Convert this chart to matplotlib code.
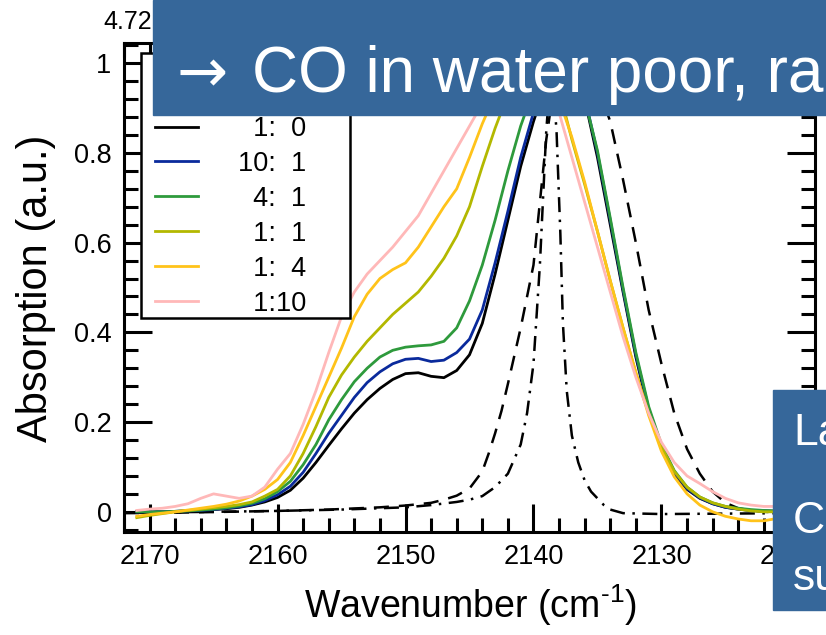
import matplotlib
matplotlib.use("Agg")
import matplotlib.pyplot as plt
from matplotlib.patches import Rectangle
from matplotlib.ticker import MultipleLocator

plt.rcParams['font.family'] = ['Liberation Sans', 'DejaVu Sans']
plt.rcParams['mathtext.fontset'] = 'custom'
plt.rcParams['mathtext.rm'] = 'Liberation Sans'
plt.rcParams['mathtext.default'] = 'regular'

# wavenumber grid of the mixture spectra, 2171 ... 2119 cm-1
wn = [2171, 2170, 2169, 2168, 2167, 2166, 2165, 2164, 2163, 2162,
      2161, 2160, 2159, 2158, 2157, 2156, 2155, 2154, 2153, 2152,
      2151, 2150, 2149, 2148, 2147, 2146, 2145, 2144, 2143, 2142,
      2141, 2140, 2139, 2138, 2137, 2136, 2135, 2134, 2133, 2132,
      2131, 2130, 2129, 2128, 2127, 2126, 2125, 2124, 2123, 2122,
      2121, 2120, 2119]

# H2O:CO ratios
ratios = ["\u20071:\u20070", "10:\u20071", "\u20074:\u20071",
          "\u20071:\u20071", "\u20071:\u20074", "\u20071:10"]
colors = ["black", "#0a2a9c", "#2e9a3c", "#b3b800", "#ffc31a", "#ffb8b8"]

abs_1_0 = [0.0, 0.0, 0.0, 0.001, 0.002, 0.003, 0.005, 0.007, 0.010, 0.015,
           0.022, 0.032, 0.048, 0.075, 0.110, 0.148, 0.185, 0.220, 0.250, 0.275,
           0.295, 0.308, 0.310, 0.302, 0.299, 0.315, 0.350, 0.420, 0.530, 0.650,
           0.770, 0.870, 0.955, 1.000, 0.985, 0.920, 0.790, 0.640, 0.490, 0.345,
           0.225, 0.140, 0.085, 0.050, 0.030, 0.018, 0.010, 0.006, 0.003, 0.002,
           0.001, 0.0, 0.0]
abs_10_1 = [0.0, 0.0, 0.0, 0.001, 0.002, 0.003, 0.005, 0.008, 0.011, 0.016,
            0.025, 0.038, 0.057, 0.088, 0.130, 0.175, 0.215, 0.255, 0.288, 0.312,
            0.330, 0.340, 0.342, 0.335, 0.338, 0.355, 0.385, 0.450, 0.555, 0.670,
            0.790, 0.890, 0.965, 1.000, 0.985, 0.925, 0.800, 0.650, 0.495, 0.350,
            0.230, 0.145, 0.088, 0.052, 0.031, 0.018, 0.010, 0.006, 0.003, 0.002,
            0.001, 0.0, 0.0]
abs_4_1 = [0.0, 0.0, 0.0, 0.001, 0.002, 0.004, 0.006, 0.009, 0.013, 0.019,
           0.029, 0.045, 0.068, 0.105, 0.150, 0.205, 0.250, 0.290, 0.320, 0.345,
           0.360, 0.367, 0.370, 0.372, 0.380, 0.410, 0.470, 0.550, 0.650, 0.760,
           0.860, 0.940, 0.990, 1.000, 0.980, 0.920, 0.805, 0.655, 0.500, 0.355,
           0.235, 0.150, 0.092, 0.055, 0.033, 0.020, 0.012, 0.008, 0.005, 0.003,
           0.002, 0.001, 0.001]
abs_1_1 = [-0.013, -0.008, -0.004, 0.0, 0.003, 0.006, 0.009, 0.012, 0.016, 0.022,
           0.035, 0.050, 0.080, 0.130, 0.190, 0.255, 0.305, 0.345, 0.380, 0.410,
           0.440, 0.465, 0.490, 0.525, 0.565, 0.615, 0.680, 0.770, 0.855, 0.930,
           0.980, 1.000, 0.990, 0.940, 0.830, 0.730, 0.625, 0.515, 0.410, 0.310,
           0.220, 0.145, 0.090, 0.055, 0.033, 0.020, 0.012, 0.006, 0.002, 0.0,
           0.0, 0.0, 0.0]
abs_1_4 = [-0.010, -0.006, -0.003, 0.0, 0.004, 0.008, 0.012, 0.017, 0.024, 0.035,
           0.050, 0.072, 0.110, 0.170, 0.235, 0.300, 0.365, 0.435, 0.485, 0.520,
           0.540, 0.555, 0.590, 0.635, 0.680, 0.720, 0.790, 0.865, 0.930, 0.975,
           1.000, 0.995, 0.970, 0.920, 0.835, 0.735, 0.625, 0.515, 0.410, 0.310,
           0.215, 0.135, 0.078, 0.040, 0.015, 0.0, -0.010, -0.016, -0.020, -0.020,
           -0.015, -0.010, -0.008]
abs_1_10 = [0.003, 0.006, 0.008, 0.012, 0.018, 0.030, 0.040, 0.035, 0.030, 0.035,
            0.055, 0.095, 0.130, 0.195, 0.270, 0.355, 0.435, 0.490, 0.530, 0.560,
            0.590, 0.625, 0.660, 0.710, 0.760, 0.810, 0.860, 0.910, 0.950, 0.980,
            1.000, 0.995, 0.960, 0.890, 0.790, 0.690, 0.590, 0.490, 0.390, 0.300,
            0.220, 0.155, 0.110, 0.080, 0.063, 0.045, 0.030, 0.020, 0.015, 0.012,
            0.012, 0.013, 0.013]
spectra = [abs_1_0, abs_10_1, abs_4_1, abs_1_1, abs_1_4, abs_1_10]

# black reference profiles
dash_wn = [2172, 2168, 2164, 2160, 2156, 2152, 2150, 2148, 2147, 2146,
           2145, 2144, 2143.5, 2143, 2142.5, 2142, 2141, 2140, 2139.5, 2139,
           2138.5, 2138, 2137, 2136, 2135, 2134, 2133, 2132, 2131, 2130,
           2129, 2128, 2127, 2126, 2125, 2124, 2123, 2122, 2120, 2118]
dash_abs = [-0.003, -0.002, 0.0, 0.002, 0.005, 0.01, 0.014, 0.02, 0.027, 0.036,
            0.052, 0.09, 0.13, 0.175, 0.225, 0.285, 0.41, 0.55, 0.69, 0.83,
            0.93, 0.98, 1.0, 0.99, 0.95, 0.87, 0.74, 0.6, 0.45, 0.33,
            0.22, 0.14, 0.085, 0.045, 0.02, 0.008, 0.003, 0.0, -0.002, -0.002]
dashdot_wn = [2172, 2165, 2160, 2155, 2150, 2148, 2146, 2145, 2144, 2143,
              2142, 2141, 2140.5, 2140, 2139.5, 2139, 2138.6, 2138.2, 2137.9, 2137.7,
              2137.4, 2137, 2136.5, 2136, 2135.5, 2135, 2134.5, 2134, 2133, 2130,
              2125, 2120, 2118]
dashdot_abs = [-0.002, 0.0, 0.002, 0.005, 0.01, 0.015, 0.022, 0.027, 0.035, 0.055,
               0.085, 0.15, 0.22, 0.33, 0.55, 0.85, 1.0, 0.85, 0.62, 0.42,
               0.27, 0.17, 0.11, 0.07, 0.045, 0.03, 0.015, 0.005, -0.003, -0.005,
               -0.004, -0.003, -0.003]

xticks = [2170, 2160, 2150, 2140, 2130, 2120]
xticklabels = ["2170", "2160", "2150", "2140", "2130", "2120"]
yticks = [0, 0.2, 0.4, 0.6, 0.8, 1.0]
yticklabels = ["0", "0.2", "0.4", "0.6", "0.8", "1"]

W, H = 826, 635
fig = plt.figure(figsize=(W / 100, H / 100), dpi=100)
ax = fig.add_axes([124 / W, 1 - 532 / H, (815 - 124) / W, (532 - 43) / H])

ax.plot(dash_wn, dash_abs, color="black", lw=1.8, dashes=(6, 4))
ax.plot(dashdot_wn, dashdot_abs, color="black", lw=1.8, dashes=(6, 3, 1, 3))
for y, c, lab in zip(spectra, colors, ratios):
    ax.plot(wn, y, color=c, lw=2.0, label=lab)

ax.set_xlim(2172, 2118)
ax.set_ylim(-0.045, 1.045)
ax.set_xticks(xticks)
ax.set_xticklabels(xticklabels)
ax.set_yticks(yticks)
ax.set_yticklabels(yticklabels)
ax.xaxis.set_minor_locator(MultipleLocator(2))
ax.yaxis.set_minor_locator(MultipleLocator(0.04))
ax.tick_params(which="both", direction="in", top=True, right=True, width=2.2,
               labelsize=19.5)
ax.tick_params(which="major", length=20)
ax.tick_params(which="minor", length=10)
ax.tick_params(axis="x", pad=9)
ax.tick_params(axis="y", pad=9)
for s in ax.spines.values():
    s.set_linewidth(2.2)

# legend with its own frame
frame = Rectangle((17 / 691, (532 - 318) / 489), (350 - 141) / 691, (318 - 53) / 489,
                  transform=ax.transAxes, facecolor="white", edgecolor="black",
                  lw=1.8, zorder=4.5, clip_on=False)
ax.add_patch(frame)
ax.legend(loc="upper left", bbox_to_anchor=((155 - 124) / 691, (532 - 116) / 489),
          frameon=False, fontsize=19.5, borderpad=0, borderaxespad=0,
          handlelength=1.6, handletextpad=1.45, labelspacing=0.33)

fig.text(36 / W, 1 - 288 / H, "Absorption (a.u.)", rotation=90, fontsize=30,
         ha="center", va="center")
fig.text(470 / W, 1 - 618 / H, r"Wavenumber (cm$^{\text{-}1}$)", fontsize=27,
         ha="center", va="baseline")
fig.text(103 / W, 1 - 29 / H, "4.72", fontsize=18, va="baseline")

# slide overlays
box_col = "#36679a"
fig.add_artist(Rectangle((153 / W, 1 - 115 / H), (W - 153) / W, 115 / H,
                         transform=fig.transFigure, color=box_col, zorder=10))
fig.text(176 / W, 1 - 92 / H, "\u2192", color="white", family="DejaVu Sans",
         fontsize=44, va="baseline", zorder=11)
fig.text(252 / W, 1 - 92 / H, "CO in water poor, ra", color="white",
         fontsize=46, va="baseline", zorder=11)
fig.add_artist(Rectangle((773 / W, 1 - 610 / H), (W - 773) / W, 220 / H,
                         transform=fig.transFigure, color=box_col, zorder=10))
fig.text(793 / W, 1 - 445 / H, "La", color="white", fontsize=32, va="baseline", zorder=11)
fig.text(793 / W, 1 - 533 / H, "C", color="white", fontsize=32, va="baseline", zorder=11)
fig.text(793 / W, 1 - 590 / H, "su", color="white", fontsize=32, va="baseline", zorder=11)

fig.savefig("out.png", dpi=100)
